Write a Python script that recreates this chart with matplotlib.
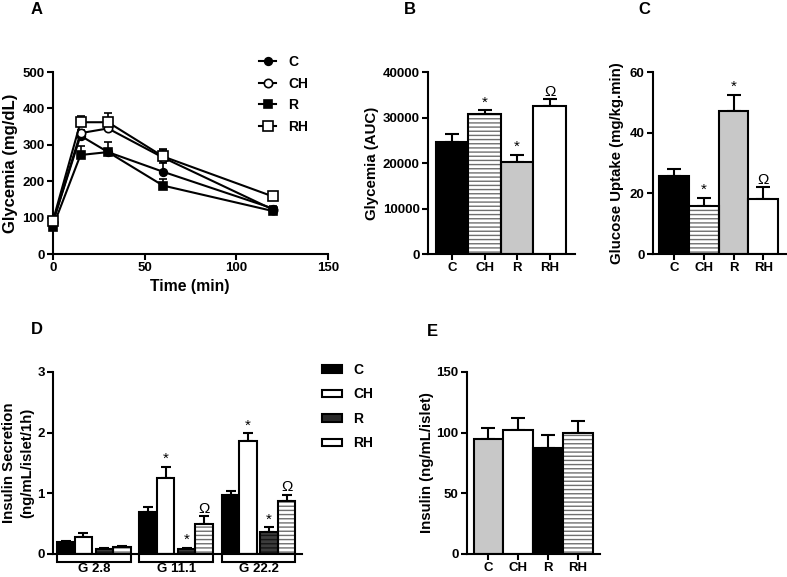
import numpy as np
import matplotlib
matplotlib.use("Agg")
import matplotlib.pyplot as plt
from matplotlib.lines import Line2D
from matplotlib.patches import Patch, Rectangle
import matplotlib.transforms as mtransforms

# ---- data -------------------------------------------------------------
groups = ["C", "CH", "R", "RH"]

# A: glucose tolerance test
time_min = [0, 15, 30, 60, 120]
ipgtt_c = [88, 325, 280, 226, 125]
ipgtt_ch = [88, 332, 345, 265, 122]
ipgtt_r = [75, 272, 280, 188, 118]
ipgtt_rh = [92, 362, 362, 268, 158]
ipgtt_c_err = [4, 8, 8, 25, 8]
ipgtt_ch_err = [4, 8, 8, 20, 6]
ipgtt_r_err = [4, 25, 27, 17, 6]
ipgtt_rh_err = [4, 16, 24, 21, 5]

# B: AUC
auc = [24600, 30700, 20300, 32600]
auc_err = [1700, 900, 1500, 1400]
auc_marks = ["", "*", "*", "Ω"]

# C: glucose uptake
uptake = [25.7, 15.9, 47.1, 18.2]
uptake_err = [2.2, 2.6, 5.4, 3.8]
uptake_marks = ["", "*", "*", "Ω"]

# D: insulin secretion
glucose_labels = ["G 2.8", "G 11.1", "G 22.2"]
secr_c = [0.20, 0.69, 0.97]
secr_ch = [0.28, 1.26, 1.86]
secr_r = [0.08, 0.08, 0.36]
secr_rh = [0.11, 0.50, 0.87]
secr_c_err = [0.02, 0.09, 0.07]
secr_ch_err = [0.06, 0.18, 0.13]
secr_r_err = [0.02, 0.02, 0.08]
secr_rh_err = [0.03, 0.12, 0.11]
secr_marks = {"CH": ["", "*", "*"], "R": ["", "*", "*"], "RH": ["", "Ω", "Ω"]}

# E: insulin content
content = [95, 102, 87, 100]
content_err = [9, 10, 11, 10]

# ---- style ------------------------------------------------------------
plt.rcParams["font.family"] = ["Liberation Sans", "DejaVu Sans"]
plt.rcParams["font.weight"] = "bold"
plt.rcParams["axes.labelweight"] = "bold"
plt.rcParams["hatch.linewidth"] = 1.0

W, H = 787, 577
fig = plt.figure(figsize=(W / 100, H / 100), dpi=100)

LW = 1.5
TICK = 9.5
LAB = 10.8
GRAY = "#c8c8c8"
HATCH_GRAY = "#707070"


def box(l, t, r, b):
    return [l / W, 1 - b / H, (r - l) / W, (b - t) / H]


def style(ax):
    for s in ("top", "right"):
        ax.spines[s].set_visible(False)
    for s in ("left", "bottom"):
        ax.spines[s].set_linewidth(LW)
    ax.tick_params(width=LW, length=4, labelsize=TICK, pad=2)
    for lab in ax.get_xticklabels() + ax.get_yticklabels():
        lab.set_fontweight("bold")


def fig_text(x, y, s, **kw):
    fig.text(x / W, 1 - y / H, s, **kw)


def draw_bar(ax, x, h, face, hatch=None, hatch_color=HATCH_GRAY, width=1.0):
    if hatch:
        ax.bar(x, h, width, color=face, edgecolor=hatch_color, hatch=hatch,
               linewidth=0, zorder=2)
        ax.bar(x, h, width, fill=False, edgecolor="black", linewidth=LW, zorder=3)
    else:
        ax.bar(x, h, width, color=face, edgecolor="black", linewidth=LW, zorder=2)


def up_err(ax, x, y, e, cap=4):
    ax.errorbar(x, y, yerr=[np.zeros(len(np.atleast_1d(e))), e], fmt="none",
                ecolor="black", elinewidth=LW, capsize=cap, capthick=LW, zorder=1)


def mark(ax, x, y, s, size=11):
    if s:
        ax.annotate(s, (x, y), xytext=(0, 0.5), textcoords="offset points",
                    ha="center", va="bottom", fontsize=size, fontweight="normal",
                    zorder=5)


# ---- A ------------------------------------------------------------------
axA = fig.add_axes(box(53, 72, 328, 254))
series = [
    (ipgtt_c, ipgtt_c_err, "o", "black", 5.5),
    (ipgtt_ch, ipgtt_ch_err, "o", "white", 6),
    (ipgtt_r, ipgtt_r_err, "s", "black", 6),
    (ipgtt_rh, ipgtt_rh_err, "s", "white", 7),
]
handles = []
for vals, err, m, fc, ms in series:
    axA.errorbar(time_min, vals, yerr=[np.zeros(len(err)), err], fmt="none",
                 ecolor="black", elinewidth=1.2, capsize=3, capthick=1.2, zorder=1)
    axA.plot(time_min, vals, color="black", lw=LW, marker=m, mfc=fc, mec="black",
             mew=1.2, ms=ms, zorder=3, clip_on=False)
    handles.append(Line2D([], [], color="black", lw=LW, marker=m, mfc=fc,
                          mec="black", mew=1.2, ms=ms))
axA.set_xlim(0, 150)
axA.set_ylim(0, 500)
axA.set_xticks([0, 50, 100, 150])
axA.set_yticks(range(0, 501, 100))
style(axA)
fig.legend(handles, groups, loc="upper left", bbox_to_anchor=(259 / W, 1 - 55 / H),
           frameon=False, handlelength=1.25, handletextpad=0.85, labelspacing=0.55,
           borderpad=0, borderaxespad=0, prop={"weight": "bold", "size": 10})
fig_text(190, 286, "Time (min)", ha="center", va="center", fontsize=LAB + 0.5,
         fontweight="bold")
fig_text(11, 163, "Glycemia (mg/dL)", ha="center", va="center", rotation=90,
         fontsize=LAB + 1.2, fontweight="bold")
fig_text(37, 9, "A", ha="center", va="center", fontsize=12, fontweight="bold")

# ---- B ------------------------------------------------------------------
axB = fig.add_axes(box(428, 72, 575, 254))
x4 = np.arange(4)
up_err(axB, x4, auc, auc_err, cap=5)
draw_bar(axB, 0, auc[0], "black")
draw_bar(axB, 1, auc[1], "white", hatch="----")
draw_bar(axB, 2, auc[2], GRAY)
draw_bar(axB, 3, auc[3], "white")
for i in range(4):
    mark(axB, i, auc[i] + auc_err[i], auc_marks[i])
axB.set_xlim(-0.74, 3.78)
axB.set_ylim(0, 40000)
axB.set_yticks(range(0, 40001, 10000))
axB.set_xticks(x4)
axB.set_xticklabels(groups)
style(axB)
fig_text(372, 163, "Glycemia (AUC)", ha="center", va="center", rotation=90,
         fontsize=LAB, fontweight="bold")
fig_text(410, 9, "B", ha="center", va="center", fontsize=12, fontweight="bold")

# ---- C ------------------------------------------------------------------
axC = fig.add_axes(box(653, 72, 786, 254))
up_err(axC, x4, uptake, uptake_err, cap=5)
draw_bar(axC, 0, uptake[0], "black")
draw_bar(axC, 1, uptake[1], "white", hatch="----")
draw_bar(axC, 2, uptake[2], GRAY)
draw_bar(axC, 3, uptake[3], "white")
for i in range(4):
    mark(axC, i, uptake[i] + uptake_err[i], uptake_marks[i])
axC.set_xlim(-0.70, 3.76)
axC.set_ylim(0, 60)
axC.set_yticks([0, 20, 40, 60])
axC.set_xticks(x4)
axC.set_xticklabels(groups)
style(axC)
fig_text(617, 163, "Glucose Uptake (mg/kg.min)", ha="center", va="center",
         rotation=90, fontsize=LAB, fontweight="bold")
fig_text(644, 9, "C", ha="center", va="center", fontsize=12, fontweight="bold")

# ---- D ------------------------------------------------------------------
axD = fig.add_axes(box(53, 372, 302, 554))
offsets = [0, 1, 2.2, 3.2]
step = 4.71
gx = np.arange(3) * step
d_series = [
    ("C", secr_c, secr_c_err, "black", None, None),
    ("CH", secr_ch, secr_ch_err, "white", None, None),
    ("R", secr_r, secr_r_err, "#3c3c3c", "----", "#141414"),
    ("RH", secr_rh, secr_rh_err, "white", "----", HATCH_GRAY),
]
for (name, vals, err, face, hatch, hc), off in zip(d_series, offsets):
    xs = gx + off
    up_err(axD, xs, vals, err, cap=3.5)
    for xi, v in zip(xs, vals):
        draw_bar(axD, xi, v, face, hatch=hatch, hatch_color=hc or HATCH_GRAY)
    if name in secr_marks:
        for xi, v, e, s in zip(xs, vals, err, secr_marks[name]):
            mark(axD, xi, v + e, s)
axD.set_xlim(-0.73, 13.5)
axD.set_ylim(0, 3)
axD.set_yticks([0, 1, 2, 3])
axD.set_xticks([])
style(axD)
trans = mtransforms.blended_transform_factory(axD.transData, axD.transAxes)
for g, lab in zip(gx, glucose_labels):
    axD.add_patch(Rectangle((g - 0.5, -0.045), offsets[-1] + 1.0, 0.045,
                            transform=trans, facecolor="white", edgecolor="black",
                            linewidth=LW, clip_on=False, zorder=4))
    axD.text(g + (offsets[-1]) / 2, -0.083, lab, transform=trans, ha="center",
             va="center", fontsize=TICK, fontweight="bold")
d_handles = [Patch(facecolor="black", edgecolor="black", linewidth=LW),
             Patch(facecolor="white", edgecolor="black", linewidth=LW),
             Patch(facecolor="#2a2a2a", edgecolor="black", linewidth=LW),
             Patch(facecolor="white", edgecolor="black", linewidth=LW)]
fig.legend(d_handles, groups, loc="upper left", bbox_to_anchor=(322 / W, 1 - 363 / H),
           frameon=False, handlelength=1.45, handleheight=0.45, handletextpad=0.8,
           labelspacing=0.75, borderpad=0, borderaxespad=0,
           prop={"weight": "bold", "size": 10})
fig_text(9, 463, "Insulin Secretion", ha="center", va="center", rotation=90,
         fontsize=LAB, fontweight="bold")
fig_text(27, 463, "(ng/mL/islet/1h)", ha="center", va="center", rotation=90,
         fontsize=LAB, fontweight="bold")
fig_text(37, 330, "D", ha="center", va="center", fontsize=12, fontweight="bold")

# ---- E ------------------------------------------------------------------
axE = fig.add_axes(box(467, 372, 600, 554))
up_err(axE, x4, content, content_err, cap=5)
draw_bar(axE, 0, content[0], GRAY)
draw_bar(axE, 1, content[1], "white")
draw_bar(axE, 2, content[2], "black")
draw_bar(axE, 3, content[3], "white", hatch="----")
axE.set_xlim(-0.72, 3.75)
axE.set_ylim(0, 150)
axE.set_yticks([0, 50, 100, 150])
axE.set_xticks(x4)
axE.set_xticklabels(groups)
style(axE)
fig_text(427, 463, "Insulin (ng/mL/islet)", ha="center", va="center", rotation=90,
         fontsize=LAB, fontweight="bold")
fig_text(432, 332, "E", ha="center", va="center", fontsize=12, fontweight="bold")

fig.savefig("out.png", dpi=100)
